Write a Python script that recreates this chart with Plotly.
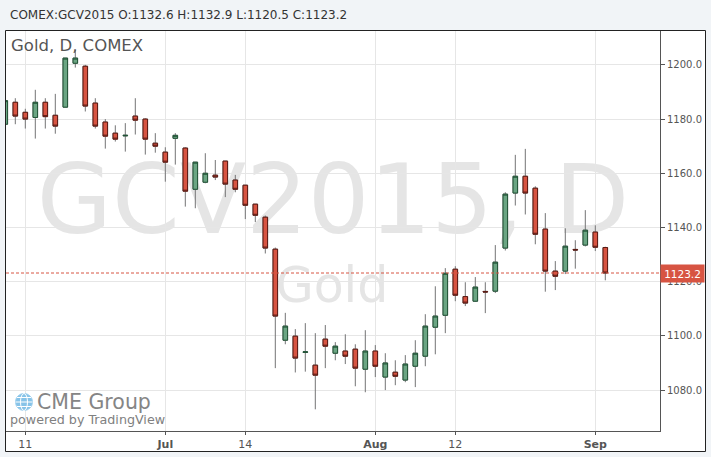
import plotly.graph_objects as go

# ---------------- data ----------------
dates = [
    "2015-06-09", "2015-06-10", "2015-06-11", "2015-06-12", "2015-06-15", "2015-06-16",
    "2015-06-17", "2015-06-18", "2015-06-19", "2015-06-22", "2015-06-23", "2015-06-24",
    "2015-06-25", "2015-06-26", "2015-06-29", "2015-06-30", "2015-07-01", "2015-07-02",
    "2015-07-06", "2015-07-07", "2015-07-08", "2015-07-09", "2015-07-10", "2015-07-13",
    "2015-07-14", "2015-07-15", "2015-07-16", "2015-07-17", "2015-07-20", "2015-07-21",
    "2015-07-22", "2015-07-23", "2015-07-24", "2015-07-27", "2015-07-28", "2015-07-29",
    "2015-07-30", "2015-07-31", "2015-08-03", "2015-08-04", "2015-08-05", "2015-08-06",
    "2015-08-07", "2015-08-10", "2015-08-11", "2015-08-12", "2015-08-13", "2015-08-14",
    "2015-08-17", "2015-08-18", "2015-08-19", "2015-08-20", "2015-08-21", "2015-08-24",
    "2015-08-25", "2015-08-26", "2015-08-27", "2015-08-28", "2015-08-31", "2015-09-01",
    "2015-09-02",
]
opens = [
    1178.1, 1186.2, 1182.5, 1180.6, 1186.2, 1181.4, 1184.4, 1200.6, 1199.5, 1185.9,
    1178.9, 1174.8, 1173.8, 1181.1, 1180.0, 1171.1, 1167.8, 1172.9, 1169.3, 1154.1,
    1156.7, 1159.3, 1164.5, 1157.5, 1155.6, 1148.6, 1143.8, 1132.0, 1098.4, 1099.9,
    1093.9, 1089.2, 1098.8, 1093.6, 1094.4, 1095.1, 1087.7, 1094.4, 1084.8, 1086.6,
    1083.7, 1088.8, 1092.5, 1103.2, 1107.6, 1124.6, 1114.5, 1112.8, 1116.4, 1116.5,
    1132.4, 1152.7, 1158.9, 1154.5, 1139.4, 1123.9, 1123.9, 1131.9, 1133.5, 1138.3,
    1132.6,
]
highs = [
    1187.5, 1187.7, 1183.8, 1190.8, 1187.7, 1189.3, 1202.5, 1205.5, 1200.0, 1187.7,
    1180.0, 1177.7, 1178.5, 1187.7, 1180.3, 1174.8, 1169.6, 1174.8, 1169.6, 1164.1,
    1167.4, 1164.9, 1164.5, 1159.4, 1155.6, 1148.6, 1144.4, 1132.6, 1108.5, 1102.5,
    1104.7, 1101.0, 1104.0, 1097.7, 1100.6, 1096.9, 1102.1, 1096.6, 1093.6, 1091.0,
    1092.9, 1098.4, 1108.0, 1118.3, 1125.0, 1125.7, 1119.8, 1121.7, 1119.8, 1133.5,
    1153.0, 1166.8, 1169.0, 1155.2, 1145.3, 1127.6, 1139.7, 1135.3, 1146.4, 1140.8,
    1132.9,
]
lows = [
    1176.0, 1178.1, 1176.5, 1172.8, 1176.5, 1174.6, 1184.4, 1199.0, 1182.8, 1176.5,
    1169.1, 1171.7, 1168.0, 1174.3, 1166.9, 1167.6, 1156.9, 1163.2, 1147.7, 1147.1,
    1156.3, 1157.5, 1151.2, 1153.0, 1143.1, 1142.0, 1130.4, 1088.1, 1096.9, 1086.5,
    1086.8, 1072.9, 1088.1, 1091.0, 1089.6, 1081.4, 1079.2, 1084.8, 1080.0, 1081.8,
    1082.9, 1081.1, 1088.8, 1093.2, 1101.0, 1112.8, 1111.0, 1112.5, 1108.4, 1115.8,
    1131.5, 1148.1, 1144.8, 1133.8, 1116.3, 1116.9, 1122.8, 1124.8, 1133.0, 1131.3,
    1120.5,
]
closes = [
    1186.8, 1181.1, 1180.0, 1186.2, 1180.9, 1177.4, 1202.5, 1202.5, 1184.8, 1177.4,
    1173.7, 1172.6, 1174.0, 1179.6, 1172.6, 1170.0, 1164.1, 1174.0, 1153.4, 1164.1,
    1160.0, 1158.6, 1156.0, 1154.1, 1148.2, 1144.5, 1132.4, 1107.3, 1103.6, 1091.8,
    1094.1, 1085.5, 1096.2, 1096.2, 1092.5, 1088.1, 1094.4, 1088.8, 1090.0, 1085.1,
    1089.6, 1093.6, 1103.6, 1107.3, 1123.1, 1115.0, 1112.1, 1118.0, 1116.2, 1127.2,
    1152.3, 1158.9, 1152.7, 1137.5, 1123.9, 1122.0, 1133.1, 1131.7, 1139.0, 1132.7,
    1123.2,
]
tick_dates = ["2015-06-11", "2015-07-01", "2015-07-14", "2015-07-31", "2015-08-12", "2015-09-01"]
tick_labels = ["11", "<b>Jul</b>", "14", "<b>Aug</b>", "12", "<b>Sep</b>"]
price_ticks = [1080, 1100, 1120, 1140, 1160, 1180, 1200]
symbol = "COMEX:GCV2015"
title_text = "Gold, D, COMEX"
watermark_main = "GCV2015, D"
watermark_sub = "Gold"

# ---------------- styling ----------------
FONT = "DejaVu Sans"
UP_FILL, UP_LINE = "#6ba583", "#225437"
DN_FILL, DN_LINE = "#d75442", "#5b1a13"
WICK = "#737375"
GRID = "#e6e6e6"
AXIS = "#555555"

W, H = 711, 457
L, R, T, B = 6, 51, 31, 26
plot_w = W - L - R
plot_h = H - T - B

idx = list(range(len(dates)))
x_range = [0.07, 65.47]
y_range = [1064.9, 1212.5]

def px_to_paper_x(px):
    return (px - L) / plot_w

def px_to_paper_y(py):
    return (H - B - py) / plot_h

body_hi = [max(o, c) for o, c in zip(opens, closes)]
body_lo = [min(o, c) for o, c in zip(opens, closes)]

fig = go.Figure()

# watermark on its own (hidden) subplot, drawn beneath the price subplot
fig.add_trace(go.Scatter(
    x=[px_to_paper_x(333), px_to_paper_x(332)],
    y=[px_to_paper_y(209), px_to_paper_y(290)],
    mode="text", text=[watermark_main, watermark_sub],
    textfont=dict(family=FONT, size=[97, 49], color="#e5e5e5"),
    hoverinfo="skip", showlegend=False, xaxis="x", yaxis="y",
))

# wicks (gray)
fig.add_trace(go.Candlestick(
    x=idx, open=opens, high=highs, low=lows, close=closes,
    increasing=dict(line=dict(color=WICK, width=1), fillcolor=UP_FILL),
    decreasing=dict(line=dict(color=WICK, width=1), fillcolor=DN_FILL),
    whiskerwidth=0, hoverinfo="skip", showlegend=False, xaxis="x2", yaxis="y2",
))
# bodies
fig.add_trace(go.Candlestick(
    x=idx, open=opens, high=body_hi, low=body_lo, close=closes,
    increasing=dict(line=dict(color=UP_LINE, width=1), fillcolor=UP_FILL),
    decreasing=dict(line=dict(color=DN_LINE, width=1), fillcolor=DN_FILL),
    whiskerwidth=0, text=dates, showlegend=False, xaxis="x2", yaxis="y2",
))

shapes = [
    # chart frame
    dict(type="rect", xref="paper", yref="paper",
         x0=px_to_paper_x(5.5), x1=px_to_paper_x(705.5),
         y0=px_to_paper_y(451.5), y1=px_to_paper_y(30.5),
         line=dict(color="#222222", width=1), fillcolor="white", layer="below"),
    # last price line
    dict(type="line", xref="paper", yref="y2", x0=0, x1=1,
         y0=closes[-1], y1=closes[-1],
         line=dict(color=DN_FILL, width=1, dash="3px,2px")),
    # globe icon
    dict(type="circle", xref="paper", yref="paper",
         x0=px_to_paper_x(15.5), x1=px_to_paper_x(32.5),
         y0=px_to_paper_y(410.5), y1=px_to_paper_y(393.5),
         line=dict(color="#9ccfee", width=1), fillcolor="#86c3e8"),
    dict(type="circle", xref="paper", yref="paper",
         x0=px_to_paper_x(20.5), x1=px_to_paper_x(27.5),
         y0=px_to_paper_y(410.5), y1=px_to_paper_y(393.5),
         line=dict(color="white", width=1)),
    dict(type="line", xref="paper", yref="paper",
         x0=px_to_paper_x(15.5), x1=px_to_paper_x(32.5),
         y0=px_to_paper_y(402), y1=px_to_paper_y(402),
         line=dict(color="white", width=1)),
    dict(type="line", xref="paper", yref="paper",
         x0=px_to_paper_x(17), x1=px_to_paper_x(31),
         y0=px_to_paper_y(397.5), y1=px_to_paper_y(397.5),
         line=dict(color="white", width=1)),
    dict(type="line", xref="paper", yref="paper",
         x0=px_to_paper_x(17), x1=px_to_paper_x(31),
         y0=px_to_paper_y(406.5), y1=px_to_paper_y(406.5),
         line=dict(color="white", width=1)),
]

ohlc_text = (f"{symbol} O:{opens[-1]:.1f} H:{highs[-1]:.1f} "
             f"L:{lows[-1]:.1f} C:{closes[-1]:.1f}")

annotations = [
    dict(xref="paper", yref="paper", x=px_to_paper_x(8), y=px_to_paper_y(15),
         xanchor="left", yanchor="middle", showarrow=False, text=ohlc_text,
         font=dict(family=FONT, size=12, color="#333333")),
    dict(xref="paper", yref="paper", x=px_to_paper_x(9), y=px_to_paper_y(46),
         xanchor="left", yanchor="middle", showarrow=False, text=title_text,
         font=dict(family=FONT, size=16.5, color="#555555")),
    dict(xref="paper", yref="paper", x=px_to_paper_x(35), y=px_to_paper_y(402),
         xanchor="left", yanchor="middle", showarrow=False, text="CME Group",
         font=dict(family=FONT, size=20.5, color="#858585")),
    dict(xref="paper", yref="paper", x=px_to_paper_x(8), y=px_to_paper_y(419),
         xanchor="left", yanchor="middle", showarrow=False, text="powered by TradingView",
         font=dict(family=FONT, size=12.7, color="#808080")),
    dict(xref="paper", yref="y2", x=1, y=closes[-1], xanchor="left", yanchor="middle",
         showarrow=False, text=f"{closes[-1]:.1f}", bgcolor=DN_FILL,
         width=41, height=15, borderpad=1,
         font=dict(family=FONT, size=10.5, color="white")),
]

fig.update_layout(
    width=W, height=H,
    margin=dict(l=L, r=R, t=T, b=B, pad=0),
    paper_bgcolor="#f1f4f7", plot_bgcolor="rgba(0,0,0,0)",
    showlegend=False, boxgap=0.35,
    shapes=shapes, annotations=annotations,
    font=dict(family=FONT, color=AXIS),
    xaxis=dict(domain=[0, 1], range=[0, 1], visible=False, fixedrange=True),
    yaxis=dict(domain=[0, 1], range=[0, 1], visible=False, fixedrange=True),
    xaxis2=dict(
        domain=[0, 1], anchor="y2",
        range=x_range, rangeslider=dict(visible=False),
        tickmode="array", tickvals=[dates.index(d) for d in tick_dates], ticktext=tick_labels,
        showgrid=True, gridcolor=GRID, gridwidth=1, zeroline=False,
        showline=True, linecolor=AXIS, linewidth=1,
        ticks="outside", ticklen=3, tickcolor=AXIS,
        tickfont=dict(family=FONT, size=11, color="#555555"),
    ),
    yaxis2=dict(
        domain=[0, 1], anchor="x2",
        range=y_range, side="right", tickmode="array", tickvals=price_ticks,
        tickformat=".1f", showgrid=True, gridcolor=GRID, gridwidth=1, zeroline=False,
        showline=True, linecolor=AXIS, linewidth=1,
        ticks="outside", ticklen=4, tickcolor=AXIS,
        tickfont=dict(family=FONT, size=10, color="#555555"),
    ),
)

fig.write_html("out.html", config={"displayModeBar": False},
               post_script="document.body.style.margin='0';")
